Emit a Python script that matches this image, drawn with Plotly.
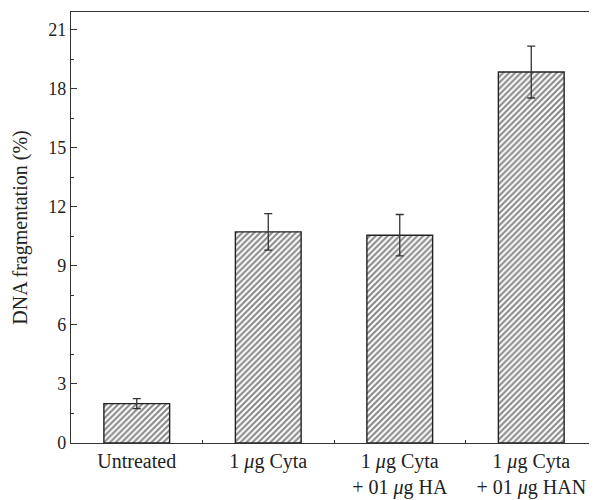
import plotly.graph_objects as go

categories = ["Untreated", "1 <i>μ</i>g Cyta", "1 <i>μ</i>g Cyta<br>+ 01 <i>μ</i>g HA", "1 <i>μ</i>g Cyta<br>+ 01 <i>μ</i>g HAN"]
values = [2.0, 10.73, 10.56, 18.85]
errors = [0.25, 0.93, 1.05, 1.32]
yticks = [0, 3, 6, 9, 12, 15, 18, 21]

FONT = "Liberation Serif"

fig = go.Figure(go.Bar(
    x=list(range(len(categories))),
    y=values,
    width=0.5,
    marker=dict(
        color="white",
        line=dict(color="#222222", width=1.4),
        pattern=dict(shape="/", size=4.2, solidity=0.5, fgcolor="#111111", bgcolor="white"),
    ),
    error_y=dict(type="data", array=errors, visible=True, color="#333333", thickness=1.3, width=4),
))

fig.update_layout(
    width=597, height=500,
    margin=dict(l=63, r=8, t=4, b=65),
    plot_bgcolor="white", paper_bgcolor="white",
    showlegend=False,
    font=dict(family=FONT, size=18, color="#222222"),
    xaxis=dict(
        tickmode="array", tickvals=list(range(len(categories))), ticktext=categories,
        range=[-0.5, 3.5], showline=True, linecolor="#333333", linewidth=1.3,
        mirror=True, ticks="", showgrid=False, zeroline=False,
        tickfont=dict(family=FONT, size=20, color="#222222"),
        minor=dict(tickvals=[0.5, 1.5, 2.5], ticks="inside", ticklen=3, tickcolor="#333333"),
    ),
    yaxis=dict(
        range=[0, 21.9], tickvals=yticks, showline=True, linecolor="#333333", linewidth=1.3,
        ticks="inside", ticklen=6, tickcolor="#333333", tickwidth=1.2,
        showgrid=False, zeroline=False,
        minor=dict(dtick=1.5, ticks="inside", ticklen=3, tickcolor="#333333"),
        tickfont=dict(family=FONT, size=18, color="#222222"),
        title=dict(text="DNA fragmentation (%)", font=dict(family=FONT, size=20, color="#222222"), standoff=15),
    ),
)

fig.write_html("out.html")
